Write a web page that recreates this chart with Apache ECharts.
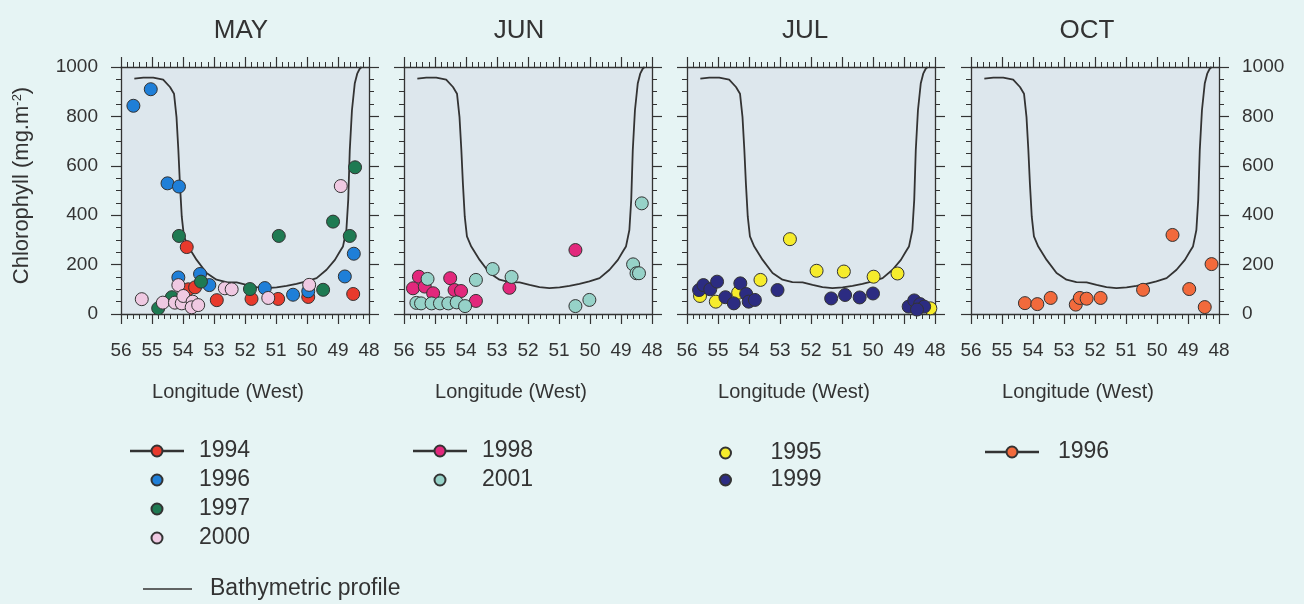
<!DOCTYPE html>
<html><head><meta charset="utf-8">
<script src="https://cdn.jsdelivr.net/npm/echarts@6/dist/echarts.min.js"></script>
<style>html,body{margin:0;padding:0;background:#e6f4f4}#c{width:1304px;height:604px}</style>
</head><body><div id="c"></div>
<script>
// ---- data ----
const months = ['MAY', 'JUN', 'JUL', 'OCT'];
const lonMin = 48, lonMax = 56, lonStep = 1;
const chlMin = 0, chlMax = 1000, chlStep = 200;

const bathyLon = [55.57,55.28,54.96,54.64,54.42,54.29,54.21,54.15,54.10,54.04,53.97,53.83,53.56,53.24,52.92,52.60,52.27,51.95,51.63,51.31,50.98,50.66,50.34,50.02,49.69,49.37,49.10,48.94,48.84,48.73,48.67,48.62,48.55,48.46,48.38,48.30,48.24];
const bathyVal = [953,957,957,949,919,892,798,664,529,394,314,273,219,166,139,129,128,118,109,105,108,114,122,132,145,179,219,253,273,340,462,664,825,933,973,993,1000];

// MAY
const may1994 = [[53.88,271],[53.83,100],[53.61,108],[52.91,56],[51.79,61],[50.93,61],[49.96,69],[48.51,81]];
const may1996 = [[55.60,843],[55.04,910],[54.50,529],[54.13,516],[54.15,148],[53.45,162],[53.15,117],[51.36,105],[50.45,78],[49.96,92],[48.78,152],[48.49,244]];
const may1997 = [[54.80,23],[54.36,68],[54.13,316],[53.42,131],[51.84,101],[50.91,316],[49.48,98],[49.16,374],[48.62,316],[48.45,594]];
const may2000 = [[55.33,60],[54.65,46],[54.15,117],[54.26,46],[54.04,43],[53.99,73],[53.69,50],[53.72,27],[53.51,36],[52.65,104],[52.43,100],[51.25,65],[49.93,118],[48.91,518]];
// JUN
const jun1998 = [[55.52,151],[55.71,104],[55.33,111],[55.06,84],[54.51,145],[54.37,97],[54.16,93],[53.68,53],[52.60,106],[50.47,259]];
const jun2001 = [[55.24,142],[55.60,45],[55.45,43],[55.11,43],[54.84,43],[54.57,43],[54.30,47],[54.03,32],[53.68,138],[53.14,182],[52.53,150],[50.47,32],[50.02,57],[48.61,201],[48.50,165],[48.42,165],[48.33,448]];
// JUL
const jul1995 = [[55.58,73],[55.07,50],[54.35,86],[53.63,138],[52.68,303],[51.82,175],[50.94,172],[49.98,151],[49.21,164],[48.15,23]];
const jul1999 = [[55.61,97],[55.47,117],[55.25,100],[55.03,131],[54.76,68],[54.49,43],[54.28,124],[54.09,81],[54.01,50],[53.81,57],[53.08,97],[51.35,63],[50.90,77],[50.43,67],[50.00,83],[48.85,30],[48.67,55],[48.48,40],[48.35,30],[48.58,18]];
// OCT
const oct1996 = [[54.26,44],[53.86,40],[53.43,65],[52.62,38],[52.49,65],[52.27,62],[51.82,65],[50.45,98],[49.50,320],[48.96,101],[48.46,28],[48.24,202]];

const panels = [
  [{name:'1994', data:may1994, color:'#e83a2c'},
   {name:'1996', data:may1996, color:'#1f7fd8'},
   {name:'1997', data:may1997, color:'#1e7a52'},
   {name:'2000', data:may2000, color:'#efc9e2'}],
  [{name:'1998', data:jun1998, color:'#e2287c'},
   {name:'2001', data:jun2001, color:'#96d2c8'}],
  [{name:'1995', data:jul1995, color:'#f6ec2c'},
   {name:'1999', data:jul1999, color:'#2c2c82'}],
  [{name:'OCT-1996', data:oct1996, color:'#f26a3c'}]
];

// ---- layout / style ----
const FONT = 'Liberation Sans, Arial, sans-serif';
const INK = '#333';
const gridLeft = [121, 404, 687, 971];
const gridTop = 67, gridW = 248, gridH = 247;
const axLine = {show:true, onZero:false, lineStyle:{color:INK, width:1.3}};
const tick = {show:true, length:10, lineStyle:{color:INK, width:1.2}};
const linePath = 'path://M0,5.2 L20.5,5.2 L20.5,5.8 L0,5.8 Z M31.5,5.2 L52,5.2 L52,5.8 L31.5,5.8 Z M20.5,5.5 A5.5,5.5 0 1,1 31.5,5.5 A5.5,5.5 0 1,1 20.5,5.5 Z';

const grid = [], xAxis = [], yAxis = [], series = [], title = [];
const titleX = [236, 514, 800, 1082];
const plain = v => String(v);

months.forEach((m, i) => {
  grid.push({left:gridLeft[i], top:gridTop, width:gridW, height:gridH, show:true,
    backgroundColor:'#dde7ed', borderWidth:0});
  title.push({text:m, left:titleX[i], top:13, textAlign:'center',
    textStyle:{fontFamily:FONT, fontSize:26, fontWeight:'normal', color:INK}});
  const xBase = {gridIndex:i, type:'value', min:lonMin, max:lonMax, interval:lonStep, inverse:true,
    axisLine:axLine, axisTick:tick,
    minorTick:{show:true, splitNumber:5, length:5, lineStyle:{color:INK, width:1}},
    splitLine:{show:false}, minorSplitLine:{show:false}};
  xAxis.push(Object.assign({}, xBase, {position:'bottom',
    axisLabel:{show:true, fontFamily:FONT, fontSize:19, color:INK, margin:27, formatter:plain},
    name:'Longitude (West)', nameLocation:'middle', nameGap:68,
    nameTextStyle:{fontFamily:FONT, fontSize:20, color:INK, padding:[0,34,0,0]}}));
  xAxis.push(Object.assign({}, xBase, {position:'top', axisLabel:{show:false}}));
  const yBase = {gridIndex:i, type:'value', min:chlMin, max:chlMax, interval:chlStep,
    axisLine:axLine, axisTick:tick,
    minorTick:{show:true, splitNumber:4, length:5, lineStyle:{color:INK, width:1}},
    splitLine:{show:false}, minorSplitLine:{show:false}};
  const yl = Object.assign({}, yBase, {position:'left',
    axisLabel:{show:i===0, fontFamily:FONT, fontSize:19, color:INK, margin:23, formatter:plain}});
  if (i === 0) {
    yl.name = 'Chlorophyll (mg.m{s|-2})';
    yl.nameLocation = 'middle';
    yl.nameGap = 88;
    yl.nameRotate = 90;
    yl.nameTextStyle = {fontFamily:FONT, fontSize:22, color:INK, padding:[0,0,0,10],
      rich:{s:{fontFamily:FONT, fontSize:13, color:INK, verticalAlign:'top', lineHeight:13, padding:[0,0,10,0]}}};
  }
  yAxis.push(yl);
  yAxis.push(Object.assign({}, yBase, {position:'right',
    axisLabel:{show:i===3, fontFamily:FONT, fontSize:19, color:INK, margin:23, formatter:plain}}));

  series.push({name:'Bathymetric profile', type:'line', xAxisIndex:2*i, yAxisIndex:2*i,
    data:bathyLon.map((x,k)=>[x, bathyVal[k]]), showSymbol:false, symbol:'none',
    lineStyle:{color:INK, width:1.8}, itemStyle:{color:INK}, z:2, silent:true});
  panels[i].forEach(s => {
    series.push({name:s.name, type:'scatter', xAxisIndex:2*i, yAxisIndex:2*i,
      data:s.data, symbol:'circle', symbolSize:13, z:3,
      itemStyle:{color:s.color, borderColor:INK, borderWidth:1, opacity:1}});
  });
});

const legText = {fontFamily:FONT, fontSize:23, color:INK, padding:[0,0,0,11], lineHeight:24};
const legBase = {orient:'vertical', padding:0, itemWidth:52, itemHeight:11, itemGap:5, selectedMode:false, textStyle:legText};
const legend = [
  Object.assign({}, legBase, {left:130, top:439, data:[{name:'1994', icon:linePath}, '1996', '1997', '2000']}),
  Object.assign({}, legBase, {left:143, top:577, itemWidth:49, itemHeight:1.5, symbolKeepAspect:false,
    textStyle:Object.assign({}, legText, {padding:[0,0,0,13]}),
    data:[{name:'Bathymetric profile', icon:'rect', itemStyle:{color:INK, borderWidth:0}}]}),
  Object.assign({}, legBase, {left:413, top:439, data:[{name:'1998', icon:linePath}, '2001']}),
  Object.assign({}, legBase, {left:719, top:441, itemGap:3, textStyle:Object.assign({}, legText, {padding:[0,0,0,14]}), data:['1995', '1999']}),
  Object.assign({}, legBase, {left:985, top:440, textStyle:Object.assign({}, legText, {padding:[0,0,0,15]}),
    data:[{name:'OCT-1996', icon:linePath}], formatter: n => n.replace('OCT-', '')})
];

const chart = echarts.init(document.getElementById('c'), null, {renderer:'canvas'});
chart.setOption({
  backgroundColor:'#e6f4f4', animation:false,
  title, grid, xAxis, yAxis, series, legend
});
</script></body></html>
